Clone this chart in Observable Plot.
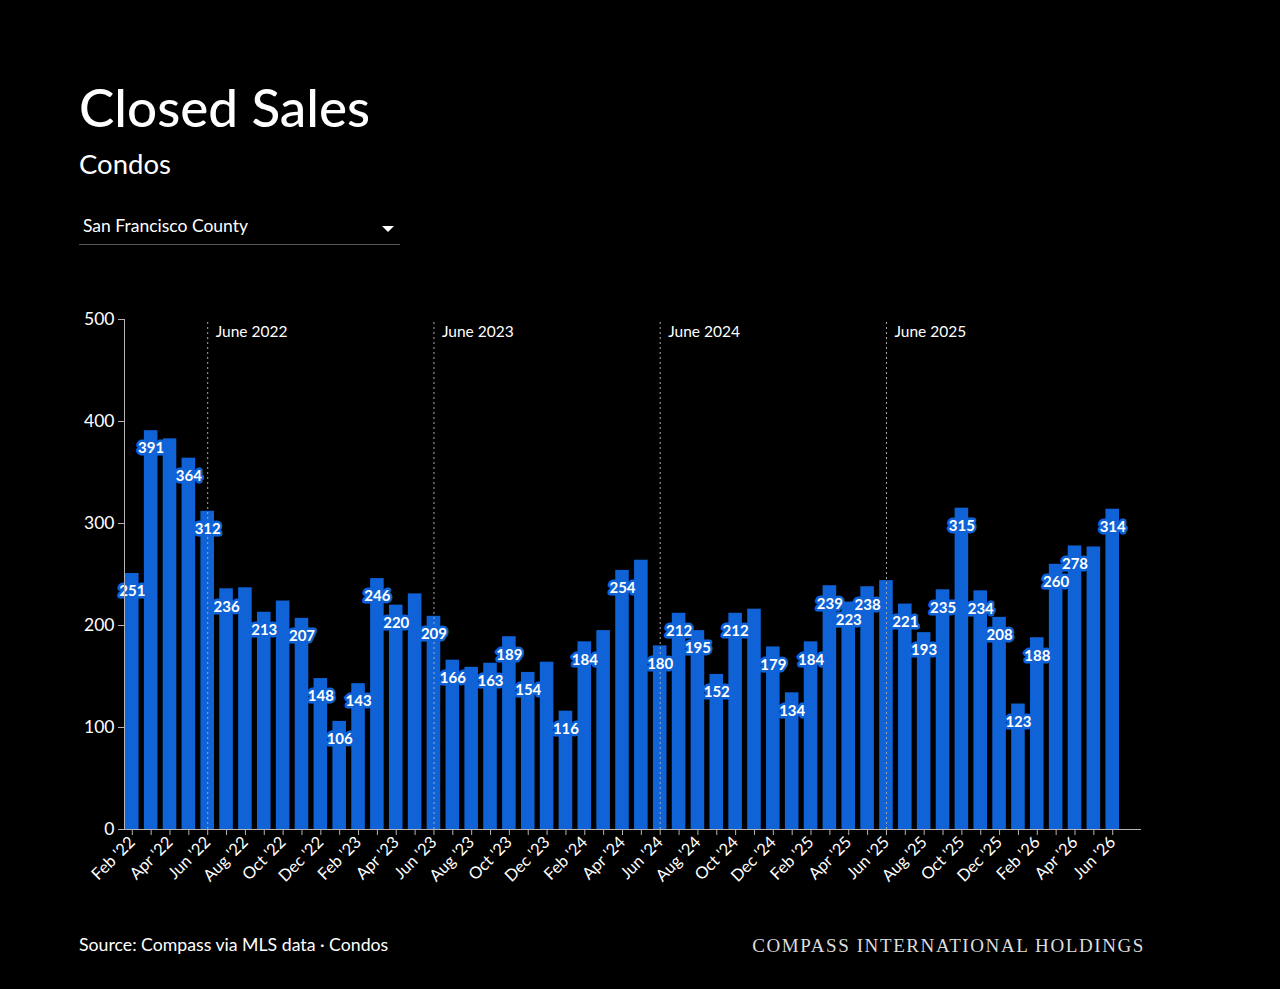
<!DOCTYPE html>
<html>
<head>
<meta charset="utf-8">
<script src="https://cdn.jsdelivr.net/npm/d3@7"></script>
<script src="https://cdn.jsdelivr.net/npm/@observablehq/plot@0.6"></script>
<style>
  html, body { margin: 0; padding: 0; background: #000; }
  body { width: 1280px; height: 989px; position: relative; overflow: hidden; font-family: Lato, "Open Sans", sans-serif; color: #fff; }
  #head, #foot { position: absolute; left: 0; }
  #head { top: 0; }
  #chart { position: absolute; left: 0; top: 300px; }
  #foot { top: 900px; }
</style>
</head>
<body>
<svg id="head" width="1280" height="300">
  <text x="79" y="127" fill="#fff" font-family="Lato, sans-serif" font-size="53" font-weight="500">Closed Sales</text>
  <text x="79" y="174" fill="#fff" font-family="Lato, sans-serif" font-size="27.5">Condos</text>
  <text x="83" y="232" fill="#fff" font-family="Lato, sans-serif" font-size="17.5">San Francisco County</text>
  <path d="M382,226 L394,226 L388,232 Z" fill="#fff"></path>
  <line x1="79" x2="400" y1="244.5" y2="244.5" stroke="#555" stroke-width="1"></line>
</svg>
<div id="chart"></div>
<svg id="foot" width="1280" height="89">
  <text x="79" y="51" fill="#fff" font-family="Lato, sans-serif" font-size="17.7">Source: Compass via MLS data · Condos</text>
  <text x="1145" y="52" fill="#ddd" text-anchor="end" font-family="'Liberation Serif', 'DejaVu Serif', serif" font-size="19" letter-spacing="1.6">COMPASS INTERNATIONAL HOLDINGS</text>
</svg>
<script>
const months = [
  "Feb '22","Mar '22","Apr '22","May '22","Jun '22","Jul '22","Aug '22","Sep '22","Oct '22","Nov '22","Dec '22",
  "Jan '23","Feb '23","Mar '23","Apr '23","May '23","Jun '23","Jul '23","Aug '23","Sep '23","Oct '23","Nov '23","Dec '23",
  "Jan '24","Feb '24","Mar '24","Apr '24","May '24","Jun '24","Jul '24","Aug '24","Sep '24","Oct '24","Nov '24","Dec '24",
  "Jan '25","Feb '25","Mar '25","Apr '25","May '25","Jun '25","Jul '25","Aug '25","Sep '25","Oct '25","Nov '25","Dec '25",
  "Jan '26","Feb '26","Mar '26","Apr '26","May '26","Jun '26"
];
const closedSales = [
  251,391,383,364,312,236,237,213,224,207,148,
  106,143,246,220,231,209,166,159,163,189,154,164,
  116,184,195,254,264,180,212,195,152,212,216,179,
  134,184,239,223,238,244,221,193,235,315,234,208,
  123,188,260,278,277,314
];
// bars whose value label is not shown in the reference
const unlabeledMonths = ["Apr '22","Aug '22","Oct '22","May '23","Aug '23","Dec '23","Mar '24","May '24","Nov '24","Jun '25","May '26"];
const juneMarkers = ["Jun '22","Jun '23","Jun '24","Jun '25"];
const juneLabels = ["June 2022","June 2023","June 2024","June 2025"];
const yTicks = [0,100,200,300,400,500];

const data = months.map((m, i) => ({month: m, value: closedSales[i]}));
const labeled = data.filter(d => !unlabeledMonths.includes(d.month));
const markers = juneMarkers.map((m, i) => ({month: m, label: juneLabels[i]}));

const blue = "#0f63d6";
const gray = "#b5b5b5";

const chart = Plot.plot({
  width: 1280,
  height: 600,
  marginLeft: 124,
  marginRight: 140,
  marginTop: 19,
  marginBottom: 71,
  style: {background: "#000", color: "#fff", fontFamily: "Lato, sans-serif"},
  x: {domain: months, range: [125, 1119], paddingInner: 0.28, paddingOuter: 0},
  y: {domain: [0, 500]},
  marks: [
    Plot.barY(data, {x: "month", y: "value", fill: blue}),
    Plot.ruleX(markers, {x: "month", y1: 0, y2: 500, stroke: "#aaa", strokeDasharray: "2,3", strokeWidth: 1}),
    Plot.text(markers, {x: "month", y: 500, text: "label", textAnchor: "start", dx: 8, dy: 13, fill: "#fff", fontSize: 15.5}),
    Plot.text(labeled, {x: "month", y: "value", text: d => String(d.value), dy: 18, fill: "#fff", stroke: blue, strokeWidth: 5, strokeLinejoin: "round", paintOrder: "stroke", fontSize: 15, fontWeight: "bold"}),
    Plot.frame({anchor: "left", stroke: gray}),
    Plot.frame({anchor: "bottom", stroke: gray}),
    Plot.axisY({ticks: yTicks, tickSize: 6, stroke: gray, fill: "#fff", fontSize: 17.5, tickPadding: 4, label: null}),
    Plot.axisX({
      tickSize: 6, stroke: gray, fill: "#fff", fontSize: 16.5, tickRotate: -45, tickPadding: 4, label: null,
      tickFormat: (d) => months.indexOf(d) % 2 === 0 ? d : ""
    })
  ]
});
document.getElementById("chart").appendChild(chart);
</script>
</body>
</html>
